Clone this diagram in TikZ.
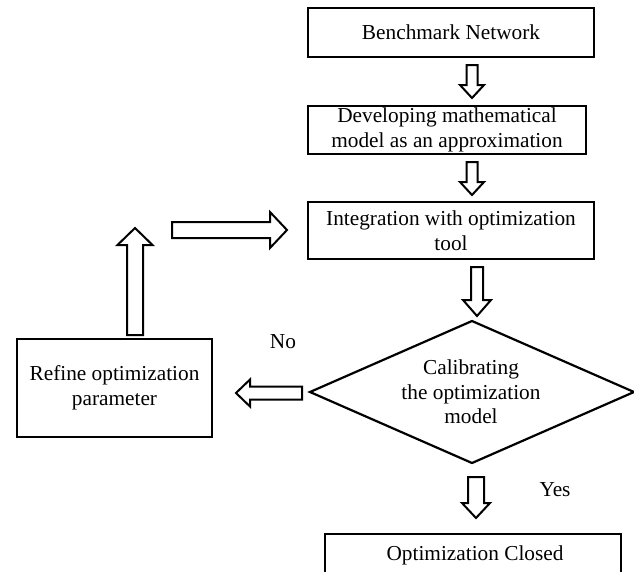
\documentclass[tikz,border=0pt]{standalone}
\usepackage{fontspec}
\setmainfont{Liberation Serif}
\tikzset{
  box/.style={draw, line width=2.4pt, inner sep=0pt, align=center, font=\fontsize{21.3}{24.5}\selectfont},
  lbl/.style={inner sep=0pt, align=center, font=\fontsize{21.3}{24.5}\selectfont},
  barrow/.style={draw, line width=2pt, fill=white, line join=miter},
  dia/.style={draw, line width=2.2pt, line join=miter}
}
% down block arrow: cx, ytop, ybase, ytip, shaft half-width, head half-width
\newcommand\dnarrow[6]{\draw[barrow] (#1-#5,#2) -- (#1+#5,#2) -- (#1+#5,#3) -- (#1+#6,#3) -- (#1,#4) -- (#1-#6,#3) -- (#1-#5,#3) -- cycle;}
% up block arrow: cx, ybottom, ybase, ytip, shaft hw, head hw
\newcommand\uparr[6]{\draw[barrow] (#1-#5,#2) -- (#1+#5,#2) -- (#1+#5,#3) -- (#1+#6,#3) -- (#1,#4) -- (#1-#6,#3) -- (#1-#5,#3) -- cycle;}
% horizontal block arrow: cy, xtail, xbase, xtip, shaft hw, head hw
\newcommand\harr[6]{\draw[barrow] (#2,#1-#5) -- (#3,#1-#5) -- (#3,#1-#6) -- (#4,#1) -- (#3,#1+#6) -- (#3,#1+#5) -- (#2,#1+#5) -- cycle;}
\begin{document}
\begin{tikzpicture}[x=1pt,y=-1pt]
\useasboundingbox (0,0) rectangle (634,571);
\clip (0,0) rectangle (634,571);

\node[box, minimum width=286pt, minimum height=49pt] (b1) at (451,32.5) {Benchmark Network};
\node[box, minimum width=278pt, minimum height=48pt] (b2) at (447,130) {Developing mathematical\\model as an approximation};
\node[box, minimum width=286pt, minimum height=57pt] (b3) at (451,230.5) {Integration with optimization\\tool};
\node[box, minimum width=195pt, minimum height=98pt] (ref) at (114.5,388) {Refine optimization\\parameter};
\node[box, minimum width=296pt, minimum height=80pt, anchor=north] (fin) at (473,533) {};
\node[lbl] (fint) at (475,555) {Optimization Closed};

% decision diamond
\coordinate (dc) at (472,392);
\draw[dia] (472,321) -- (634,392) -- (472,463) -- (310,392) -- cycle;
\node[lbl] (dec) at (471,392) {Calibrating\\the optimization\\model};

\node[lbl] (no) at (283,342) {No};
\node[lbl] (yes) at (555,490) {Yes};

% block arrows
\dnarrow{472}{65}{85}{98}{5.5}{12}
\dnarrow{472}{162}{182}{195}{5.5}{12}
\dnarrow{477}{267}{300}{316}{6}{14}
\dnarrow{476}{477}{503}{518}{8}{14}
\uparr{135}{335}{245}{228}{8}{17.5}
\harr{230}{172}{270}{287}{8}{18}
\harr{393}{302}{250}{236}{6.5}{13.5}
\end{tikzpicture}
\end{document}
